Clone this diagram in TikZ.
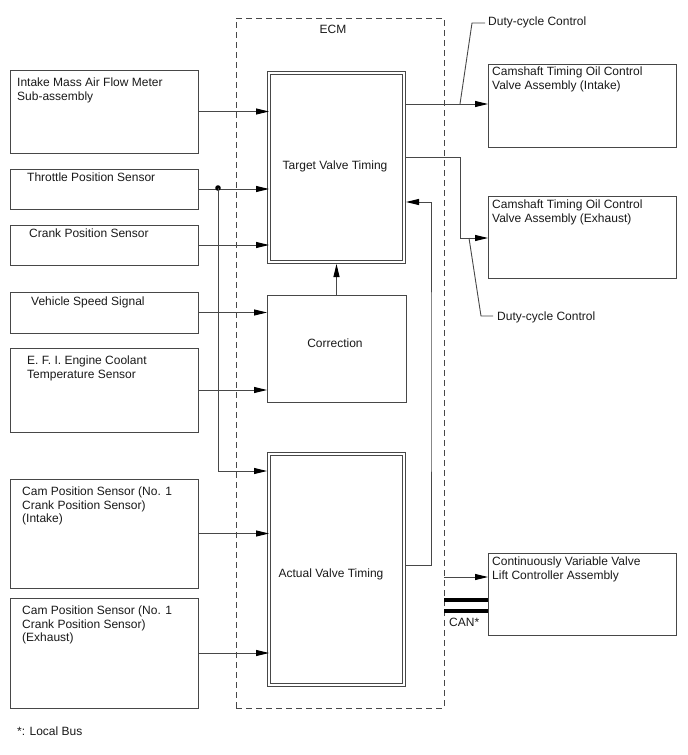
\documentclass[tikz,border=0pt]{standalone}
\usepackage{fontspec}
\setmainfont{Liberation Sans}
\usetikzlibrary{arrows.meta,calc}
\begin{document}
\begin{tikzpicture}[x=1pt,y=-1pt,
 ln/.style={draw=black!72, line width=0.9pt},
 arr/.style={ln, -{Triangle[length=13pt,width=6pt,fill=black,color=black]}},
 box/.style={draw=black!72, line width=0.9pt, rectangle, inner sep=0pt, outer sep=0pt, anchor=north west},
 dbox/.style={box, double=white, double distance=2.2pt},
 txt/.style={inner sep=0pt, anchor=north west, align=left, font=\fontsize{12}{13.4}\selectfont, text=black!90},
 ctxt/.style={inner sep=0pt, font=\fontsize{12}{13.4}\selectfont, text=black!90},
 ecm/.style={draw=black!72, line width=0.8pt, dash pattern=on 6pt off 4pt},
 bus/.style={draw=black, line width=3.8pt},
]
\useasboundingbox (0,0) rectangle (688,755);

% ECM
\node[ecm, rectangle, inner sep=0pt, outer sep=0pt, anchor=north west, minimum width=208, minimum height=690] (ecm) at (236,18) {};
\node[ctxt] (ecmlbl) at (333,29) {ECM};

% ECM blocks
\node[dbox, minimum width=135, minimum height=189] (tvt) at (269,73) {};
\node[ctxt] (tvtlbl) at (335,166) {Target Valve Timing};
\node[box, minimum width=139, minimum height=107] (cor) at (267,295) {};
\node[ctxt] (corlbl) at (335,343) {Correction};
\node[dbox, minimum width=135, minimum height=231] (avt) at (269,454) {};
\node[ctxt] (avtlbl) at (331,574) {Actual Valve Timing};

% inputs
\node[box, minimum width=188, minimum height=83] (imaf) at (10,70) {};
\node[txt] (imaft) at ($(imaf.north west)+(7,8)$) {Intake Mass Air Flow Meter\\Sub-assembly};
\node[box, minimum width=188, minimum height=40] (tps) at (10,169) {};
\node[txt] (tpst) at ($(tps.north west)+(17,4)$) {Throttle Position Sensor};
\node[box, minimum width=188, minimum height=40] (cps) at (10,225) {};
\node[txt] (cpst) at ($(cps.north west)+(19,4)$) {Crank Position Sensor};
\node[box, minimum width=188, minimum height=41] (vss) at (10,292) {};
\node[txt] (vsst) at ($(vss.north west)+(21,5)$) {Vehicle Speed Signal};
\node[box, minimum width=188, minimum height=84] (efi) at (10,348) {};
\node[txt] (efit) at ($(efi.north west)+(17,8)$) {E. F. I. Engine Coolant\\Temperature Sensor};
\node[box, minimum width=188, minimum height=109] (cami) at (10,479) {};
\node[txt] (camit) at ($(cami.north west)+(12,8)$) {Cam Position Sensor (No. 1\\Crank Position Sensor)\\(Intake)};
\node[box, minimum width=188, minimum height=110] (came) at (10,598) {};
\node[txt] (camet) at ($(came.north west)+(12,8)$) {Cam Position Sensor (No. 1\\Crank Position Sensor)\\(Exhaust)};

% outputs
\node[box, minimum width=188, minimum height=83] (ocvi) at (488,64) {};
\node[txt] (ocvit) at ($(ocvi.north west)+(4,3)$) {Camshaft Timing Oil Control\\Valve Assembly (Intake)};
\node[box, minimum width=188, minimum height=82] (ocve) at (488,196) {};
\node[txt] (ocvet) at ($(ocve.north west)+(4,4)$) {Camshaft Timing Oil Control\\Valve Assembly (Exhaust)};
\node[box, minimum width=188, minimum height=82] (cvvl) at (488,553) {};
\node[txt] (cvvlt) at ($(cvvl.north west)+(4,4)$) {Continuously Variable Valve\\Lift Controller Assembly};

% input connectors
\draw[arr] (imaf.east) -- (imaf.east -| tvt.west);
\draw[arr] (tps.east) -- (tps.east -| tvt.west);
\draw[arr] (cps.east) -- (cps.east -| tvt.west);
\draw[arr] (vss.east) -- (vss.east -| cor.west);
\draw[arr] (efi.east) -- (efi.east -| cor.west);
\draw[arr] (cami.east) -- (cami.east -| avt.west);
\draw[arr] (came.east) -- (came.east -| avt.west);
\coordinate (j) at (218,188);
\fill[black] (j) circle (2.8pt);
\coordinate (avtin) at (269,471);
\draw[arr] (j) |- ($(avtin)+(-2,0)$);

% internal
\draw[arr] (cor.north) -- ($(cor.north |- tvt.south)+(0,2)$);
\coordinate (fbout) at (406,565);
\coordinate (fbin) at (406,202);
\draw[arr] (fbout) -| (431,380) |- (fbin);

% outputs
\draw[arr] (406,104) -- (ocvi.west |- 0,104);
\coordinate (o2) at (406,157);
\draw[arr] (o2) -| (460,238) -- (ocve.west |- 0,238);
\draw[arr] (444,577) -- (cvvl.west |- 0,577);
\draw[bus] (444,600) -- (cvvl.west |- 0,600);
\draw[bus] (444,611) -- (cvvl.west |- 0,611);
\node[ctxt, anchor=west] (can) at (449,622) {CAN*};

% duty-cycle labels
\draw[ln] (460,104) -- (472,23) -- (485,23);
\node[ctxt, anchor=west] (dc1) at (488,22) {Duty-cycle Control};
\draw[ln] (469,238) -- (481,316) -- (493,316);
\node[ctxt, anchor=west] (dc2) at (497,317) {Duty-cycle Control};

\node[ctxt, anchor=west] (note) at (17,731) {*: Local Bus};
\end{tikzpicture}
\end{document}
